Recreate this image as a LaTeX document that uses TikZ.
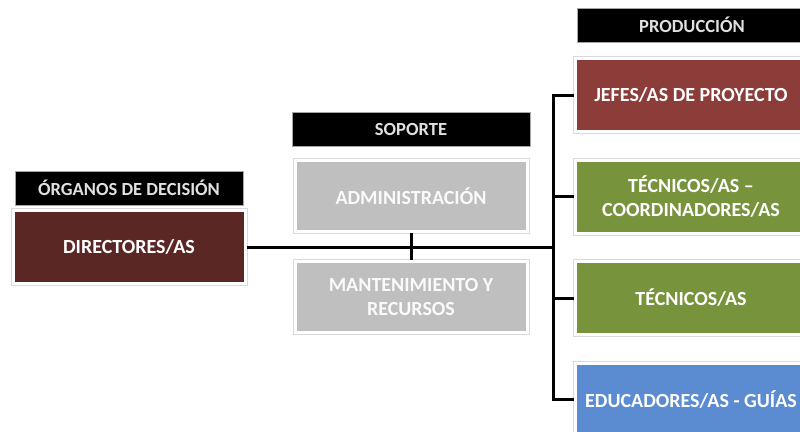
\documentclass[tikz,border=0pt]{standalone}
\usepackage{fontspec}
\setmainfont{Carlito}
\usetikzlibrary{positioning}

\definecolor{vino}{HTML}{5A2725}
\definecolor{teja}{HTML}{8C3D39}
\definecolor{oliva}{HTML}{77933C}
\definecolor{azul}{HTML}{5B8BD0}
\definecolor{gris}{HTML}{BFBFBF}

\tikzstyle{cabecera} = [fill=black, draw=black!35, line width=0.6pt, text=white!88!black,
    minimum height=34pt, inner sep=0pt, font=\bfseries\fontsize{18.5}{21}\selectfont]
\tikzstyle{caja} = [minimum width=232pt, minimum height=73pt, inner sep=0pt, align=center,
    text=white, draw=white, line width=3pt, preaction={draw=black!15, line width=5pt},
    font=\bfseries\fontsize{20}{23.5}\selectfont]
\tikzstyle{linea} = [line width=3pt]

\begin{document}
\begin{tikzpicture}[x=1pt, y=-1pt]
	\useasboundingbox (0,0) rectangle (800,431);
	% organos de decision
	\node[cabecera, minimum width=228pt] (organos) at (129,188) {ÓRGANOS DE DECISIÓN};
	\node[caja, fill=vino] (directores) at (129,247) {DIRECTORES/AS};
	% soporte
	\node[cabecera, minimum width=238pt] (soporte) at (411,129) {SOPORTE};
	\node[caja, fill=gris, text=white!92!gris, minimum height=71pt] (administracion) at (411,196) {ADMINISTRACIÓN};
	\node[caja, fill=gris, text=white!92!gris, minimum height=71pt] (mantenimiento) at (411,297) {MANTENIMIENTO Y\\RECURSOS};
	% produccion
	\node[cabecera, minimum width=230pt] (produccion) at (692,25) {PRODUCCIÓN};
	\node[caja, fill=teja] (jefes) at (691,95) {JEFES/AS DE PROYECTO};
	\node[caja, fill=oliva, below=25.5pt of jefes] (coordinadores) {TÉCNICOS/AS --\\COORDINADORES/AS};
	\node[caja, fill=oliva, below=25.5pt of coordinadores] (tecnicos) {TÉCNICOS/AS};
	\node[caja, fill=azul, below=25.5pt of tecnicos] (educadores) {EDUCADORES/AS - GUÍAS};

	\coordinate (bus) at (553,247);
	\draw[linea] (directores.east) -- (bus);
	\draw[linea] (administracion.south) -- (mantenimiento.north);
	\draw[linea] (jefes.west) -| (bus) |- (educadores.west);
	\draw[linea] (coordinadores.west) -- (coordinadores.west -| bus);
	\draw[linea] (tecnicos.west) -- (tecnicos.west -| bus);
\end{tikzpicture}
\end{document}
